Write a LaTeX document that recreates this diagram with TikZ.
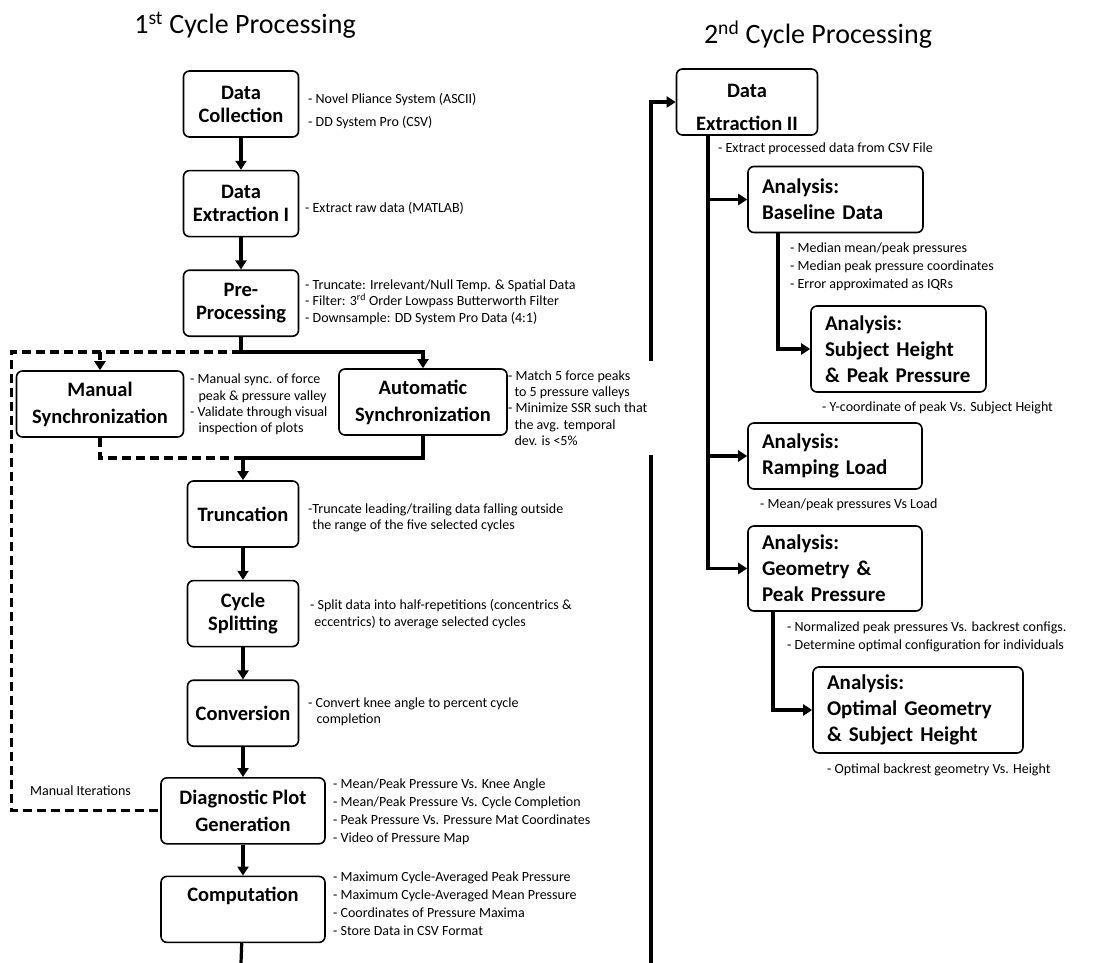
\documentclass[tikz,border=0pt]{standalone}
\usepackage{fontspec}
\setmainfont{Carlito}
\usetikzlibrary{positioning,arrows.meta}

\begin{document}
\begin{tikzpicture}[x=1pt, y=-1pt, node distance=32pt,
  proc/.style={draw, line width=1.6pt, rounded corners=6pt, align=center, inner sep=2pt, minimum height=66pt, font=\fontsize{20.5}{23}\selectfont\bfseries},
  ana/.style={draw, line width=1.6pt, rounded corners=6pt, align=left, inner xsep=14pt, inner ysep=2pt, font=\fontsize{21}{26}\selectfont\bfseries},
  note/.style={anchor=west, align=left, inner sep=0pt, font=\fontsize{14}{16.4}\selectfont},
  title/.style={font=\fontsize{28}{32}\selectfont},
  arr/.style={-{Triangle[length=9pt,width=11pt]}, line width=3.2pt},
  wire/.style={line width=3.2pt},
  iter/.style={line width=3.2pt, dash pattern=on 9pt off 5pt}]
\useasboundingbox (0,0) rectangle (1097,963);
\node[title] (cycleOne) at (245,25) {1\textsuperscript{st} Cycle Processing};
\node[title] (cycleTwo) at (818,35) {2\textsuperscript{nd} Cycle Processing};
% first cycle
\node[proc, minimum width=115pt] (collect) at (241,104) {Data\\Collection};
\node[proc, minimum width=115pt, below=of collect] (extractA) {Data\\Extraction I};
\node[proc, minimum width=115pt, below=of extractA] (pre) {Pre-\\Processing};
\node[proc, minimum width=167pt] (manual) at (100,404) {Manual\\[4pt]Synchronization};
\node[proc, minimum width=168pt] (auto) at (423,402) {Automatic\\[4pt]Synchronization};
\node[proc, minimum width=111pt] (trunc) at (243,514) {Truncation};
\node[proc, minimum width=111pt, below=of trunc] (split) {Cycle\\Splitting};
\node[proc, minimum width=111pt, below=of split] (conv) {Conversion};
\node[proc, minimum width=164pt, below=30pt of conv] (diag) {Diagnostic Plot\\[4pt]Generation};
\node[proc, minimum width=164pt, below=31pt of diag] (comp) {Computation\\\strut};
% second cycle
\node[proc, minimum width=141pt] (extractB) at (747,102) {\strut\\[-14pt]Data\\[10pt]Extraction II};
\node[ana, text width=147pt, minimum height=66pt] (base) at (835.5,199.5) {Analysis:\\Baseline Data};
\node[ana, text width=147pt, minimum height=86pt] (subj) at (898.5,349) {Analysis:\\Subject Height\\\& Peak Pressure};
\node[ana, text width=146pt, minimum height=66pt] (ramp) at (835,456) {Analysis:\\Ramping Load};
\node[ana, text width=146pt, minimum height=85pt] (geom) at (835,568.5) {Analysis:\\Geometry \&\\Peak Pressure};
\node[ana, text width=182pt, minimum height=86pt] (opt) at (918,710) {Analysis:\\Optimal Geometry\\\& Subject Height};

\foreach \a/\b in {collect/extractA, extractA/pre, trunc/split, split/conv, conv/diag, diag/comp} \draw[arr] (\a) -- (\b);
\coordinate (fork) at (241,352);
\coordinate (join) at (243,458);
\path (diag.west) ++(-149,0) coordinate (loopBot);
\draw[wire] (pre) -- (fork);
\draw[arr] (fork) -| (auto);
\draw[arr, iter] (fork) -| (manual);
\draw[iter] (fork) -| (loopBot) -- (diag);
\draw[iter] (manual) |- (join);
\draw[wire] (auto) |- (join);
\draw[arr] (join) -- (trunc);
\coordinate (outL) at (241,963);
\coordinate (outR) at (651,963);
\draw[wire] (comp) -- (outL);
\draw[arr] (outR) |- (extractB);
\coordinate (tap) at (708,135);
\draw[arr] ([xshift=-39pt]extractB.south) |- (geom);
\foreach \n in {base, ramp} \draw[arr] (\n.west -| tap) -- (\n);
\draw[arr] ([xshift=-57.5pt]base.south) |- (subj);
\draw[arr] ([xshift=-62pt]geom.south) |- (opt);

\node[note] (collectNote) at (308,111.5) {- Novel Pliance System (ASCII)\\[6.6pt]- DD System Pro (CSV)};
\node[note] (extractANote) at (305,208) {- Extract raw data (MATLAB)};
\node[note] (preNote) at (305,302) {- Truncate: Irrelevant/Null Temp. \& Spatial Data\\- Filter: 3\textsuperscript{rd} Order Lowpass Butterworth Filter\\- Downsample: DD System Pro Data (4:1)};
\node[note] (manualNote) at (190,404.5) {- Manual sync. of force\\\hspace*{0.6em}peak \& pressure valley\\- Validate through visual\\\hspace*{0.6em}inspection of plots};
\node[note, fill=white, inner ysep=9pt] (autoNote) at (508,408) {\makebox[152pt][l]{- Match 5 force peaks}\\\hspace*{0.45em}to 5 pressure valleys\\- Minimize SSR such that\\\hspace*{0.45em}the avg. temporal\\\hspace*{0.45em}dev. is <5\%};
\node[note] (truncNote) at (308,518) {-Truncate leading/trailing data falling outside\\\hspace*{0.3em}the range of the five selected cycles};
\node[note] (splitNote) at (310,614) {- Split data into half-repetitions (concentrics \&\\\hspace*{0.3em}eccentrics) to average selected cycles};
\node[note] (convNote) at (308,711.5) {- Convert knee angle to percent cycle\\\hspace*{0.6em}completion};
\node[note] (diagNote) at (333,812) {- Mean/Peak Pressure Vs. Knee Angle\\[1.5pt]- Mean/Peak Pressure Vs. Cycle Completion\\[1.5pt]- Peak Pressure Vs. Pressure Mat Coordinates\\[1.5pt]- Video of Pressure Map};
\node[note] (compNote) at (333,904) {- Maximum Cycle-Averaged Peak Pressure\\[1.5pt]- Maximum Cycle-Averaged Mean Pressure\\[1.5pt]- Coordinates of Pressure Maxima\\[1.5pt]- Store Data in CSV Format};
\node[note] (iterLabel) at (30,791) {Manual Iterations};
\node[note] (extractBNote) at (718,149) {- Extract processed data from CSV File};
\node[note] (baseNote) at (790,267) {- Median mean/peak pressures\\[1.5pt]- Median peak pressure coordinates\\[1.5pt]- Error approximated as IQRs};
\node[note] (subjNote) at (822,408) {- Y-coordinate of peak Vs. Subject Height};
\node[note] (rampNote) at (760,505) {- Mean/peak pressures Vs Load};
\node[note] (geomNote) at (787,637) {- Normalized peak pressures Vs. backrest configs.\\[1.5pt]- Determine optimal configuration for individuals};
\node[note] (optNote) at (827,770) {- Optimal backrest geometry Vs. Height};
\end{tikzpicture}
\end{document}
